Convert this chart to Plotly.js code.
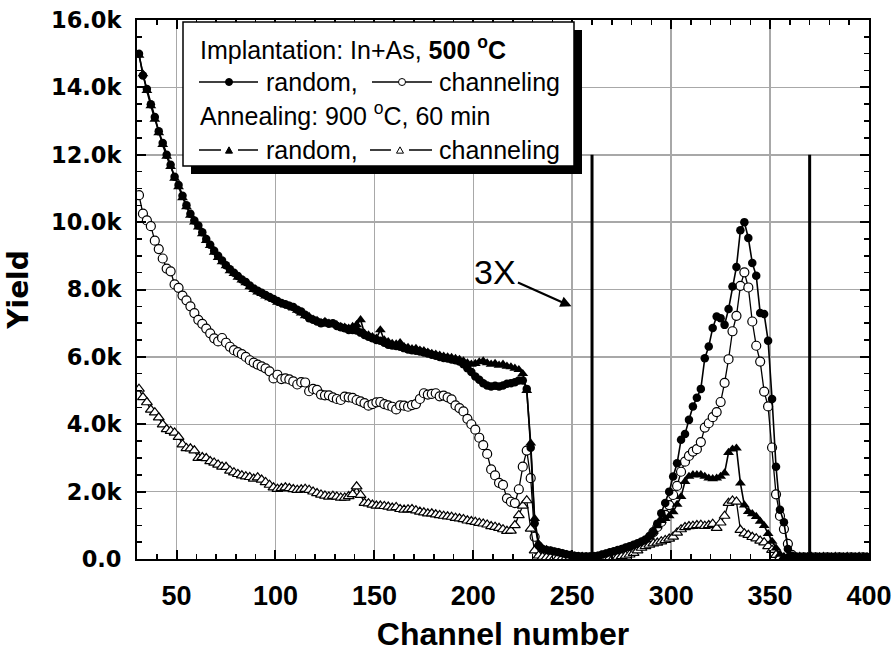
<!DOCTYPE html>
<html>
<head>
<meta charset="utf-8">
<script src="https://cdn.plot.ly/plotly-3.0.1.min.js"></script>
<style>html,body{margin:0;padding:0;background:#fff;}#chart{width:894px;height:652px;}</style>
</head>
<body>
<div id="chart"></div>
<script>
// Channel numbers (x values)
const channels = [
 31,33,35,37,39,41,43,45,47,49,
 51,53,55,57,59,61,63,65,67,69,
 71,73,75,77,79,81,83,85,87,89,
 91,93,95,97,99,101,103,105,107,109,
 111,113,115,117,119,121,123,125,127,129,
 131,133,135,137,139,141,143,145,147,149,
 151,153,155,157,159,161,163,165,167,169,
 171,173,175,177,179,181,183,185,187,189,
 191,193,195,197,199,201,203,205,207,209,
 211,213,215,217,219,221,223,225,227,229,
 231,233,235,237,239,241,243,245,247,249,
 251,253,255,257,259,261,263,265,267,269,
 271,273,275,277,279,281,283,285,287,289,
 291,293,295,297,299,301,303,305,307,309,
 311,313,315,317,319,321,323,325,327,329,
 331,333,335,337,339,341,343,345,347,349,
 351,353,355,357,359,361,363,365,367,369,
 371,373,375,377,379,381,383,385,387,389,
 391,393,395,397,399
];

// Yields in thousands of counts
// Implantation In+As 500 C, random
const implRandom = [
 15.0,14.35,13.95,13.5,13.12,12.7,12.35,12.0,11.7,11.35,
 11.1,10.78,10.5,10.25,10.05,9.9,9.7,9.5,9.33,9.15,
 9.0,8.86,8.72,8.6,8.5,8.4,8.3,8.22,8.12,8.03,
 7.96,7.9,7.84,7.78,7.72,7.66,7.6,7.56,7.52,7.48,
 7.4,7.35,7.25,7.15,7.1,7.05,7.0,7.02,6.98,7.0,
 6.92,6.88,6.85,6.8,6.8,6.78,6.72,6.65,6.6,6.55,
 6.5,6.48,6.42,6.36,6.34,6.32,6.3,6.26,6.22,6.2,
 6.18,6.16,6.13,6.1,6.06,6.03,6.0,5.97,5.95,5.92,
 5.9,5.86,5.78,5.66,5.55,5.42,5.32,5.22,5.15,5.12,
 5.14,5.12,5.15,5.2,5.22,5.25,5.3,5.3,5.05,3.3,
 1.06,0.4,0.3,0.27,0.25,0.22,0.2,0.17,0.14,0.12,
 0.1,0.08,0.07,0.06,0.06,0.07,0.1,0.13,0.16,0.2,
 0.23,0.27,0.3,0.34,0.38,0.42,0.47,0.52,0.58,0.68,
 0.8,1.05,1.36,1.66,2.0,2.45,2.84,3.54,3.71,4.13,
 4.53,4.79,5.05,5.96,6.31,6.86,7.2,7.15,6.95,7.42,
 8.09,8.67,9.76,10.0,9.53,8.79,8.41,7.3,7.27,6.48,
 4.75,2.74,1.46,1.09,0.3,0.1,0.06,0.05,0.05,0.04,
 0.05,0.04,0.05,0.04,0.04,0.05,0.04,0.04,0.05,0.04,
 0.04,0.05,0.04,0.04,0.05
];
// Implantation, channeling
const implChannel = [
 10.8,10.25,10.05,9.88,9.45,9.2,8.92,8.62,8.54,8.15,
 8.05,7.82,7.68,7.5,7.3,7.1,6.98,6.84,6.7,6.55,
 6.46,6.56,6.42,6.3,6.2,6.14,6.08,6.0,5.9,5.83,
 5.77,5.72,5.66,5.57,5.36,5.47,5.34,5.36,5.33,5.27,
 5.18,5.25,5.24,4.98,5.05,5.02,4.88,4.86,4.86,4.8,
 4.75,4.72,4.82,4.8,4.78,4.72,4.68,4.63,4.55,4.6,
 4.65,4.66,4.6,4.56,4.52,4.44,4.56,4.55,4.52,4.57,
 4.6,4.75,4.92,4.88,4.9,4.92,4.83,4.85,4.8,4.74,
 4.56,4.48,4.38,4.16,4.0,3.84,3.6,3.38,3.12,2.66,
 2.48,2.26,2.2,1.8,1.7,1.66,2.07,2.74,3.22,2.4,
 0.66,0.25,0.12,0.08,0.06,0.05,0.05,0.05,0.04,0.05,
 0.04,0.05,0.04,0.05,0.05,0.05,0.06,0.07,0.08,0.1,
 0.12,0.14,0.17,0.2,0.24,0.28,0.33,0.4,0.5,0.62,
 0.8,0.95,1.1,1.31,1.6,1.9,2.17,2.59,2.89,3.06,
 3.19,3.26,3.47,3.9,4.03,4.21,4.36,4.66,5.23,5.93,
 6.76,7.22,8.11,8.51,8.06,7.05,6.33,5.86,4.97,4.53,
 3.31,1.92,1.28,0.89,0.45,0.12,0.05,0.04,0.05,0.04,
 0.04,0.05,0.04,0.04,0.05,0.04,0.04,0.05,0.04,0.04,
 0.05,0.04,0.04,0.05,0.04
];
// Annealing 900 C 60 min, random
const annRandom = [
 14.95,14.4,13.9,13.45,13.05,12.65,12.3,11.95,11.65,11.3,
 11.05,10.72,10.45,10.2,10.0,9.85,9.65,9.45,9.3,9.1,
 8.95,8.82,8.7,8.55,8.47,8.36,8.28,8.2,8.08,8.0,
 7.92,7.88,7.8,7.75,7.7,7.62,7.58,7.54,7.5,7.45,
 7.38,7.3,7.22,7.2,7.12,7.08,7.02,7.05,7.0,6.98,
 6.95,6.9,6.88,6.85,6.9,6.95,7.1,6.7,6.65,6.6,
 6.55,6.8,6.5,6.45,6.4,6.38,6.42,6.3,6.28,6.24,
 6.25,6.2,6.18,6.14,6.1,6.08,6.05,6.02,6.0,5.98,
 5.95,5.92,5.88,5.82,5.78,5.8,5.85,5.88,5.82,5.78,
 5.8,5.75,5.78,5.72,5.7,5.66,5.62,5.5,5.0,3.44,
 1.2,0.45,0.32,0.28,0.24,0.21,0.19,0.16,0.13,0.11,
 0.09,0.08,0.07,0.06,0.06,0.07,0.09,0.12,0.15,0.18,
 0.21,0.24,0.28,0.32,0.36,0.4,0.45,0.5,0.56,0.66,
 0.82,0.98,1.14,1.2,1.28,1.4,1.62,1.85,2.3,2.45,
 2.5,2.5,2.5,2.45,2.4,2.38,2.4,2.45,2.55,3.16,
 3.26,3.29,2.25,1.6,1.41,1.34,1.26,1.12,0.99,0.75,
 0.52,0.32,0.14,0.06,0.05,0.04,0.05,0.04,0.04,0.05,
 0.04,0.04,0.05,0.04,0.05,0.04,0.04,0.05,0.04,0.04,
 0.05,0.04,0.04,0.05,0.04
];
// Annealing, channeling
const annChannel = [
 5.05,4.8,4.65,4.43,4.35,4.2,3.99,3.85,3.8,3.75,
 3.62,3.4,3.29,3.28,3.22,3.0,3.02,2.99,2.9,2.86,
 2.8,2.74,2.73,2.62,2.57,2.52,2.48,2.45,2.43,2.38,
 2.42,2.35,2.28,2.2,2.12,2.08,2.1,2.12,2.1,2.07,
 2.05,2.06,2.08,2.05,2.0,1.95,1.91,1.88,1.85,1.87,
 1.85,1.82,1.82,1.86,1.92,2.15,1.9,1.66,1.65,1.61,
 1.58,1.58,1.57,1.55,1.52,1.54,1.48,1.46,1.47,1.48,
 1.44,1.4,1.38,1.35,1.35,1.32,1.3,1.28,1.26,1.25,
 1.22,1.2,1.18,1.14,1.12,1.1,1.07,1.05,1.02,0.97,
 0.95,0.92,0.88,0.83,0.84,1.0,1.3,1.58,1.74,0.9,
 0.25,0.1,0.06,0.05,0.04,0.04,0.05,0.04,0.04,0.05,
 0.04,0.04,0.05,0.04,0.04,0.05,0.04,0.04,0.05,0.04,
 0.05,0.06,0.08,0.1,0.13,0.18,0.25,0.33,0.38,0.42,
 0.46,0.48,0.52,0.56,0.6,0.66,0.78,0.88,0.94,0.97,
 0.98,1.0,1.01,0.98,1.0,1.04,0.92,1.08,1.28,1.66,
 1.73,1.7,0.86,0.76,0.71,0.65,0.61,0.54,0.49,0.38,
 0.27,0.12,0.05,0.04,0.05,0.04,0.04,0.05,0.04,0.04,
 0.05,0.04,0.04,0.05,0.04,0.04,0.05,0.04,0.04,0.05,
 0.04,0.04,0.05,0.04,0.04
];

const yTickVals = [0,2,4,6,8,10,12,14,16];
const yTickText = ['0.0','2.0k','4.0k','6.0k','8.0k','10.0k','12.0k','14.0k','16.0k'];
const xTickVals = [50,100,150,200,250,300,350,400];
const boundaryChannels = [260, 370];
const boundaryTop = 12;
const magnifyLabel = '3X';
const arrowTip = {x: 249.6, y: 7.5};

const FONT = 'Liberation Sans, Arial, sans-serif';
const WIDE = 'DejaVu Sans, Liberation Sans, sans-serif';
const PL = 137, PR = 869, PT = 20, PB = 559;
const px = v => (v - PL) / (PR - PL);
const py = v => (PB - v) / (PB - PT);

const traces = [
  {x: channels, y: implChannel, mode: 'lines+markers', line: {color: '#000', width: 1.3},
   marker: {symbol: 'circle', size: 9, color: '#fff', line: {color: '#000', width: 1.2}}},
  {x: channels, y: annChannel, mode: 'lines+markers', line: {color: '#000', width: 1.3},
   marker: {symbol: 'triangle-up', size: 9.5, color: '#fff', line: {color: '#000', width: 1.2}}},
  {x: channels, y: implRandom, mode: 'lines+markers', line: {color: '#000', width: 1.6},
   marker: {symbol: 'circle', size: 8.5, color: '#000'}},
  {x: channels, y: annRandom, mode: 'lines+markers', line: {color: '#000', width: 1.6},
   marker: {symbol: 'triangle-up', size: 9.5, color: '#000'}}
];

function tri(cx, cy, s, fill) {
  const h = s * 0.9;
  return {type: 'path', xref: 'paper', yref: 'paper', layer: 'above',
    path: `M ${px(cx - s/2)},${py(cy + h/2)} L ${px(cx + s/2)},${py(cy + h/2)} L ${px(cx)},${py(cy - h/2)} Z`,
    fillcolor: fill, line: {color: '#000', width: 1}};
}
function hline(x0, x1, y) {
  return {type: 'line', xref: 'paper', yref: 'paper', layer: 'above',
    x0: px(x0), x1: px(x1), y0: py(y), y1: py(y), line: {color: '#000', width: 1.5}};
}
function circ(cx, cy, r, fill) {
  return {type: 'circle', xref: 'paper', yref: 'paper', layer: 'above',
    x0: px(cx - r), x1: px(cx + r), y0: py(cy + r), y1: py(cy - r),
    fillcolor: fill, line: {color: '#000', width: 1}};
}

const shapes = [];
boundaryChannels.forEach(c => shapes.push({type: 'line', xref: 'x', yref: 'y', x0: c, x1: c, y0: 0, y1: boundaryTop,
  line: {color: '#000', width: 3}, layer: 'above'}));
// legend box with shadow
shapes.push({type: 'rect', xref: 'paper', yref: 'paper', layer: 'above',
  x0: px(191), x1: px(582), y0: py(174), y1: py(30), fillcolor: '#000', line: {width: 0}});
shapes.push({type: 'rect', xref: 'paper', yref: 'paper', layer: 'above',
  x0: px(183), x1: px(574), y0: py(166), y1: py(22), fillcolor: '#fff', line: {color: '#000', width: 1.5}});
// legend symbols
shapes.push(hline(199, 258, 82), circ(229, 82, 3.5, '#000'));
shapes.push(hline(372, 432, 82), circ(402, 82, 3.5, '#fff'));
shapes.push(hline(199, 221, 150), hline(238, 258, 150), tri(229, 150, 7, '#000'));
shapes.push(hline(370, 391, 150), hline(409, 432, 150), tri(400, 150, 7, '#fff'));

const legFont = {family: FONT, size: 25, color: '#000'};
const ann = (x, y, text) => ({xref: 'paper', yref: 'paper', x: px(x), y: py(y), xanchor: 'left', yanchor: 'middle',
  text: text, showarrow: false, font: legFont});
const annotations = [
  ann(198, 48, 'Implantation: In+As, <b>500 <sup>o</sup>C</b>'),
  ann(264, 82, 'random,'),
  ann(437, 82, 'channeling'),
  ann(198, 114, 'Annealing: 900 <sup>o</sup>C, 60 min'),
  ann(264, 150, 'random,'),
  ann(437, 150, 'channeling'),
  {x: arrowTip.x, y: arrowTip.y, xref: 'x', yref: 'y', text: magnifyLabel, showarrow: true,
   ax: -76, ay: -34, arrowhead: 2, arrowsize: 1, arrowwidth: 2.2, arrowcolor: '#000',
   font: {family: FONT, size: 34, color: '#000'}}
];

const layout = {
  width: 894, height: 652,
  margin: {l: PL, r: 894 - PR, t: PT, b: 652 - PB, pad: 0},
  paper_bgcolor: '#fff', plot_bgcolor: '#fff',
  showlegend: false,
  font: {family: FONT, color: '#000'},
  xaxis: {
    range: [30, 400], tickvals: xTickVals, ticktext: xTickVals.map(String),
    showgrid: true, gridcolor: '#a8a8a8', gridwidth: 1.5, zeroline: false,
    showline: true, linecolor: '#000', linewidth: 2, mirror: 'ticks',
    ticks: 'inside', ticklen: 9, tickwidth: 2, tickcolor: '#000',
    minor: {dtick: 10, tick0: 0, ticks: 'inside', ticklen: 5, tickwidth: 1.5, tickcolor: '#000', showgrid: false},
    tickfont: {family: FONT, size: 27, weight: 'bold'},
    ticklabelstandoff: 12,
    title: {text: 'Channel number', font: {family: FONT, size: 32, weight: 'bold'}, standoff: 20},
    automargin: false
  },
  yaxis: {
    range: [0, 16], tickvals: yTickVals, ticktext: yTickText,
    showgrid: true, gridcolor: '#a8a8a8', gridwidth: 1.5, zeroline: false,
    showline: true, linecolor: '#000', linewidth: 2, mirror: 'ticks',
    ticks: 'inside', ticklen: 9, tickwidth: 2, tickcolor: '#000',
    minor: {dtick: 0.5, tick0: 0, ticks: 'inside', ticklen: 5, tickwidth: 1.5, tickcolor: '#000', showgrid: false},
    tickfont: {family: WIDE, size: 22.5, weight: 'bold'},
    ticklabelstandoff: 9,
    title: {text: 'Yield', font: {family: WIDE, size: 28, weight: 'bold'}, standoff: 14},
    automargin: false
  },
  shapes: shapes,
  annotations: annotations
};

Plotly.newPlot('chart', traces, layout, {staticPlot: true, displayModeBar: false});
</script>
</body>
</html>
